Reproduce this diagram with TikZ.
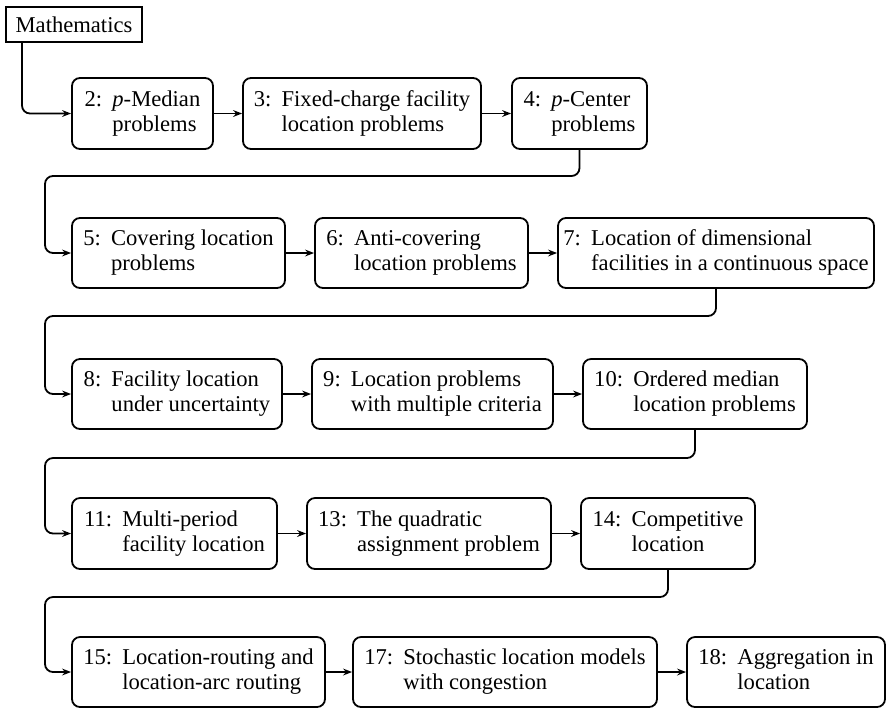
\documentclass[tikz,border=0pt]{standalone}
\usepackage{fontspec}
\setmainfont{Liberation Serif}
\usetikzlibrary{arrows.meta}
\tikzset{
  box/.style={draw, line width=0.9pt, rounded corners=4pt, inner sep=0pt,
    font=\fontsize{11.3}{12.5}\selectfont},
  topbox/.style={draw, line width=0.9pt, inner sep=0pt,
    font=\fontsize{11.3}{12.5}\selectfont},
  conn/.style={line width=0.9pt, rounded corners=4pt,
    -{Stealth[length=4.5pt,width=3.4pt,inset=1.5pt]}},
}
% chapter box: name, left, right, top, bottom, tabular rows
\newcommand\chapbox[6]{%
  \node[box, minimum width={(#3-#2)*0.5pt}, minimum height={(#5-#4)*0.5pt}]
    (#1) at ({(#2+#3)/2},{(#4+#5)/2})
    {\begin{tabular}{@{}l@{\hspace{0.45em}}l@{}}#6\end{tabular}};}
\begin{document}
\begin{tikzpicture}[x=0.5pt,y=-0.5pt]
\useasboundingbox (0,0) rectangle (886,708);

\node[topbox, minimum width=68pt, minimum height=17.5pt] (math) at (74,24.5) {Mathematics};

% row 1
\chapbox{c2}{72}{213}{78}{149}{2: & \textit{p}-Median\\ & problems}
\chapbox{c3}{243}{481}{78}{149}{3: & Fixed-charge facility\\ & location problems}
\chapbox{c4}{512}{647}{78}{149}{4: & \textit{p}-Center\\ & problems}
% row 2
\chapbox{c5}{72}{285}{218}{288}{5: & Covering location\\ & problems}
\chapbox{c6}{315}{528}{218}{288}{6: & Anti-covering\\ & location problems}
\chapbox{c7}{558}{874}{218}{288}{7: & Location of dimensional\\ & facilities in a continuous space}
% row 3
\chapbox{c8}{72}{282}{359}{429}{8: & Facility location\\ & under uncertainty}
\chapbox{c9}{312}{553}{359}{429}{9: & Location problems\\ & with multiple criteria}
\chapbox{c10}{583}{807}{359}{429}{10: & Ordered median\\ & location problems}
% row 4
\chapbox{c11}{72}{277}{498}{569}{11: & Multi-period\\ & facility location}
\chapbox{c13}{307}{551}{498}{569}{13: & The quadratic\\ & assignment problem}
\chapbox{c14}{581}{755}{498}{569}{14: & Competitive\\ & location}
% row 5
\chapbox{c15}{72}{325}{637}{707}{15: & Location-routing and\\ & location-arc routing}
\chapbox{c17}{353}{657}{637}{707}{17: & Stochastic location models\\ & with congestion}
\chapbox{c18}{687}{885}{637}{707}{18: & Aggregation in\\ & location}

% the line out of the Mathematics box leaves near its left end
\coordinate (dm) at (22,0);

\draw[conn] (dm |- math.south) |- (c2.west);
\draw[conn] (c2) -- (c3);
\draw[conn] (c3) -- (c4);
\draw[conn] (c4.south) |- (45,176) |- (c5.west);
\draw[conn] (c5) -- (c6);
\draw[conn] (c6) -- (c7);
\draw[conn] (c7.south) |- (45,316) |- (c8.west);
\draw[conn] (c8) -- (c9);
\draw[conn] (c9) -- (c10);
\draw[conn] (c10.south) |- (45,458) |- (c11.west);
\draw[conn] (c11) -- (c13);
\draw[conn] (c13) -- (c14);
\draw[conn] (c14.south) |- (45,597) |- (c15.west);
\draw[conn] (c15) -- (c17);
\draw[conn] (c17) -- (c18);
\end{tikzpicture}
\end{document}
